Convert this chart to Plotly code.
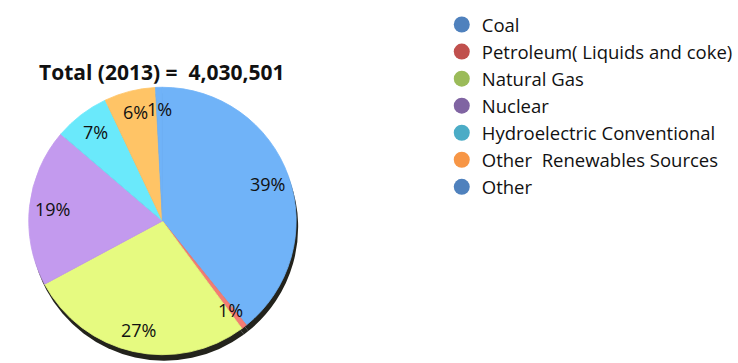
import math
import plotly.graph_objects as go

# Net generation by source, 2013 (thousand MWh)
sources = ["Coal", "Petroleum( Liquids and coke)", "Natural Gas", "Nuclear",
           "Hydroelectric Conventional", "Other  Renewables Sources", "Other"]
generation = [1580000, 27000, 1100000, 770000, 270000, 250000, 33501]
total_label = "Total (2013) =  4,030,501"

slice_colors = ["#70B3F8", "#F37C73", "#E6FA80", "#C39AEE", "#6AE9FB", "#FFC466", "#70B3F8"]
legend_colors = ["#4F81BD", "#C0504D", "#9BBB59", "#8064A2", "#4BACC6", "#F79646", "#4F81BD"]

FONT = "Open Sans"
W, H = 738, 363

# pie placement in pixels
cx, cy, d = 164, 221, 270


def dom(x0, y0, dia):
    return dict(x=[(x0 - dia / 2) / W, (x0 + dia / 2) / W],
                y=[1 - (y0 + dia / 2) / H, 1 - (y0 - dia / 2) / H])


fig = go.Figure()

# dark rim beneath the pie for a tilted look
fig.add_trace(go.Pie(
    values=generation, labels=sources, sort=False, direction="clockwise",
    marker=dict(colors=["#23231c"] * len(sources), line=dict(width=0)),
    textinfo="none", hoverinfo="skip", showlegend=False,
    domain=dom(cx + 2, cy + 6, d),
))

fig.add_trace(go.Pie(
    values=generation, labels=sources, sort=False, direction="clockwise",
    marker=dict(colors=slice_colors, line=dict(width=0.8, color=slice_colors)),
    textinfo="none", showlegend=False,
    domain=dom(cx, cy, d),
))

# percentage labels placed along each slice's mid-angle
total = sum(generation)
cum = 0.0
for v in generation:
    mid = (cum + v / 2) / total
    cum += v
    ang = 2 * math.pi * mid
    r = 0.83 * d / 2
    px = cx + r * math.sin(ang)
    py = cy - r * math.cos(ang)
    fig.add_annotation(
        text=f"{round(100 * v / total)}%", x=px / W, y=1 - py / H,
        xref="paper", yref="paper", xanchor="center", yanchor="middle",
        showarrow=False, font=dict(family=FONT, size=18, color="#111111"),
    )

# legend entries with round markers
for name, col in zip(sources, legend_colors):
    fig.add_trace(go.Scatter(
        x=[None], y=[None], mode="markers", name=name,
        marker=dict(symbol="circle", size=18, color=col),
    ))

fig.add_annotation(
    text=f"<b>{total_label}</b>", x=164 / W, y=1 - 72 / H,
    xref="paper", yref="paper", xanchor="center", yanchor="middle",
    showarrow=False, font=dict(family=FONT, size=21, color="#111111"),
)

fig.update_layout(
    width=W, height=H, margin=dict(l=0, r=0, t=0, b=0),
    paper_bgcolor="white", plot_bgcolor="white",
    xaxis=dict(visible=False), yaxis=dict(visible=False),
    legend=dict(x=446 / W, y=1 - 6 / H, xanchor="left", yanchor="top",
                font=dict(family=FONT, size=18.5, color="#111111"),
                itemsizing="trace", bgcolor="rgba(0,0,0,0)"),
)

fig.write_html("out.html")
